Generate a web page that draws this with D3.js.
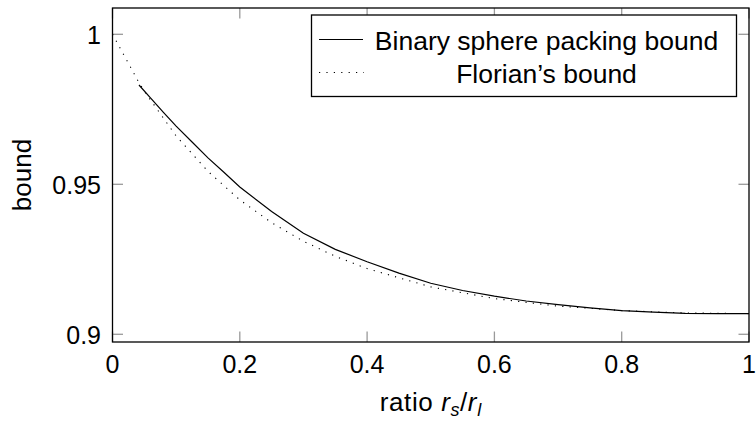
<!DOCTYPE html>
<html>
<head>
<meta charset="utf-8">
<script src="https://cdn.jsdelivr.net/npm/d3@7"></script>
<style>
  body { margin: 0; background: #fff; }
  svg text { font-family: "Liberation Sans", Arial, sans-serif; fill: #000; }
</style>
</head>
<body>
<script>
// values
const florianX = [0, 0.04, 0.05, 0.1, 0.15, 0.2, 0.25, 0.3, 0.35, 0.4, 0.5, 0.6, 0.7, 0.8, 0.9, 1];
const florianY = [1, 0.9845, 0.9810, 0.9661, 0.9543, 0.9448, 0.9372, 0.9310, 0.9260, 0.9219, 0.9158, 0.9119, 0.9094, 0.9079, 0.9071, 0.9069];

const binaryX = [0.0416, 0.06, 0.08, 0.1, 0.125, 0.15, 0.175, 0.2, 0.25, 0.3, 0.35, 0.4, 0.45, 0.5, 0.55, 0.6, 0.65, 0.7, 0.75, 0.8, 0.85, 0.9, 0.95, 1];
const binaryY = [0.9831, 0.9787, 0.9740, 0.9694, 0.9641, 0.9588, 0.9540, 0.9491, 0.9409, 0.9337, 0.9283, 0.9242, 0.9204, 0.9170, 0.9146, 0.9127, 0.9111, 0.9099, 0.9088, 0.9079, 0.9074, 0.9070, 0.9069, 0.9069];

const xTicks = [0, 0.2, 0.4, 0.6, 0.8, 1];
const yTicks = [0.9, 0.95, 1];
const legendLabels = ["Binary sphere packing bound", "Florian\u2019s bound"];

const W = 756, H = 421;
const plotLeft = 112.5, plotRight = 749, plotTop = 8, plotBottom = 342;

const svg = d3.select("body")
  .append("svg")
  .attr("width", W)
  .attr("height", H);

const x = d3.scaleLinear().domain([0, 1]).range([plotLeft, plotRight]);
const y = d3.scaleLinear().domain([0.89743, 1.00877]).range([plotBottom, plotTop]);

const tickLen = 10.5;
const tickColor = "#9a9a9a";

// ticks (inside, mirrored on top / right)
const tickG = svg.append("g").attr("stroke", tickColor).attr("stroke-width", 1.3);
xTicks.forEach(t => {
  tickG.append("line").attr("x1", x(t)).attr("x2", x(t)).attr("y1", plotBottom).attr("y2", plotBottom - tickLen);
  tickG.append("line").attr("x1", x(t)).attr("x2", x(t)).attr("y1", plotTop).attr("y2", plotTop + tickLen);
});
yTicks.forEach(t => {
  tickG.append("line").attr("x1", plotLeft).attr("x2", plotLeft + tickLen).attr("y1", y(t)).attr("y2", y(t));
  tickG.append("line").attr("x1", plotRight).attr("x2", plotRight - tickLen).attr("y1", y(t)).attr("y2", y(t));
});

// tick labels
svg.append("g")
  .selectAll("text")
  .data(xTicks)
  .join("text")
  .attr("x", d => x(d))
  .attr("y", 373)
  .attr("text-anchor", "middle")
  .style("font-size", "25px")
  .text(d => d3.format("")(d));

svg.append("g")
  .selectAll("text")
  .data(yTicks)
  .join("text")
  .attr("x", 101)
  .attr("y", d => y(d))
  .attr("dy", "0.39em")
  .attr("text-anchor", "end")
  .style("font-size", "25px")
  .text(d => d3.format("")(d));

// curves
const line = d3.line().x(d => x(d[0])).y(d => y(d[1]));

svg.append("path")
  .datum(d3.zip(florianX, florianY))
  .attr("d", line)
  .attr("fill", "none")
  .attr("stroke", "#000")
  .attr("stroke-width", 1.1)
  .attr("stroke-dasharray", "1.2,6.2");

svg.append("path")
  .datum(d3.zip(binaryX, binaryY))
  .attr("d", line)
  .attr("fill", "none")
  .attr("stroke", "#000")
  .attr("stroke-width", 1.2);

// frame
svg.append("rect")
  .attr("x", plotLeft).attr("y", plotTop)
  .attr("width", plotRight - plotLeft).attr("height", plotBottom - plotTop)
  .attr("fill", "none")
  .attr("stroke", "#000")
  .attr("stroke-width", 1.3);

// axis labels
const xl = svg.append("text")
  .attr("x", (plotLeft + plotRight) / 2)
  .attr("y", 410.5)
  .attr("text-anchor", "middle")
  .style("font-size", "26px")
  .style("letter-spacing", "0.6px");
xl.append("tspan").text("ratio ");
xl.append("tspan").style("font-style", "italic").text("r");
xl.append("tspan").style("font-style", "italic").style("font-size", "18px").attr("dy", 5).text("s");
xl.append("tspan").attr("dy", -5).text("/");
xl.append("tspan").style("font-style", "italic").text("r");
xl.append("tspan").style("font-style", "italic").style("font-size", "18px").attr("dy", 5).text("l");

svg.append("text")
  .attr("transform", `translate(31, ${(plotTop + plotBottom) / 2}) rotate(-90)`)
  .attr("text-anchor", "middle")
  .style("font-size", "26px")
  .text("bound");

// legend
const lg = svg.append("g");
lg.append("rect")
  .attr("x", 311.5).attr("y", 15)
  .attr("width", 425).attr("height", 81.5)
  .attr("fill", "#fff")
  .attr("stroke", "#000")
  .attr("stroke-width", 1.3);

const rowY = [39.5, 72.5];
lg.append("line").attr("x1", 319).attr("x2", 363).attr("y1", rowY[0]).attr("y2", rowY[0])
  .attr("stroke", "#000").attr("stroke-width", 1.2);
lg.append("line").attr("x1", 319).attr("x2", 364).attr("y1", rowY[1]).attr("y2", rowY[1])
  .attr("stroke", "#000").attr("stroke-width", 1.1).attr("stroke-dasharray", "1.2,6.2");

lg.selectAll("text.leg")
  .data(legendLabels)
  .join("text")
  .attr("class", "leg")
  .attr("x", 546.5)
  .attr("y", (d, i) => rowY[i])
  .attr("dy", "0.38em")
  .attr("text-anchor", "middle")
  .style("font-size", "26.5px")
  .text(d => d);
</script>
</body>
</html>
